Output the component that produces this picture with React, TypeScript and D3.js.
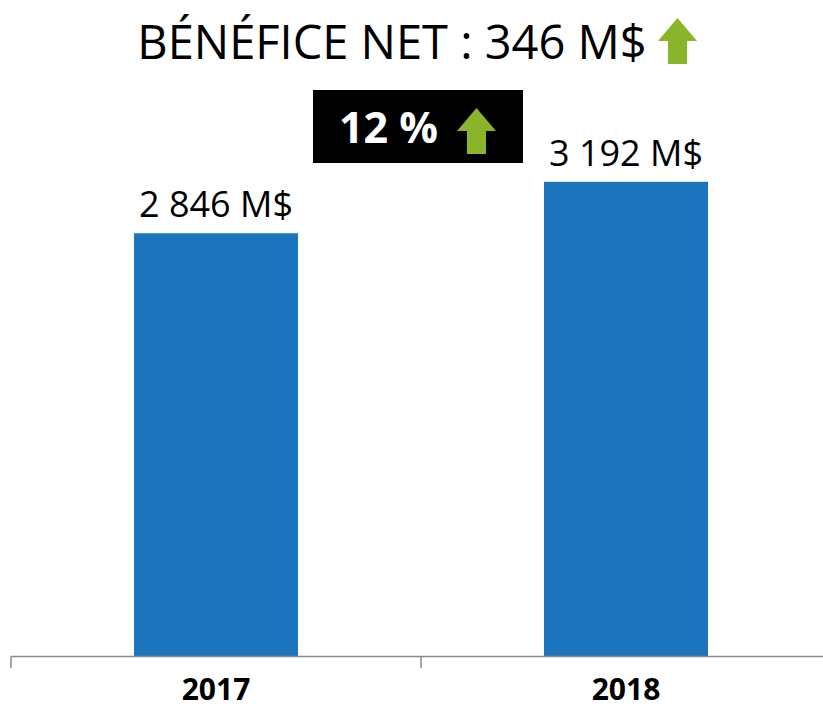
import React from 'react';
import * as d3 from 'd3';

const years = ['2017', '2018'];
const values = [2846, 3192];
const valueLabels = ['2 846 M$', '3 192 M$'];
const titleText = 'BÉNÉFICE NET : 346 M$';
const changeText = '12 %';

const W = 823;
const H = 709;
const baseY = 656.5;

// up arrow: triangular head on top, shaft below
const arrowPts = (x: number, y: number, w: number, h: number) => {
  const pts = [
    [0.5, 0], [1, 0.5], [0.745, 0.5], [0.745, 1], [0.255, 1], [0.255, 0.5], [0, 0.5],
  ];
  return pts.map(p => `${x + p[0] * w},${y + p[1] * h}`).join(' ');
};

const App = () => {
  const x = d3.scaleBand<string>().domain(years).range([11, 831]);
  const y = d3.scaleLinear().domain([0, 3500]).range([baseY, 136]);
  const barW = x.bandwidth() * 0.4;
  const font = "'Open Sans', sans-serif";

  return (
    <svg width={W} height={H} style={{ position: 'absolute', left: 0, top: 0 }} fontFamily={font}>
      <rect width={W} height={H} fill="#fff" />
      <text x={392} y={59} textAnchor="middle" fontSize={47} fill="#000">{titleText}</text>
      <polygon points={arrowPts(658, 18, 39, 46)} fill="#8AB52B" />

      <rect x={313} y={90} width={210} height={73} fill="#000" />
      <text x={339} y={143} fontSize={43} fontWeight="bold" fill="#fff">{changeText}</text>
      <polygon points={arrowPts(457, 108, 39, 46)} fill="#8AB52B" />

      {years.map((yr, i) => {
        const cx = (x(yr) as number) + x.bandwidth() / 2;
        return (
          <g key={yr}>
            <rect x={cx - barW / 2} y={y(values[i])} width={barW} height={baseY - y(values[i])} fill="#1C75BC" />
            <text x={cx} y={y(values[i]) - 16} textAnchor="middle" fontSize={36} fill="#000">{valueLabels[i]}</text>
            <text x={cx} y={700} textAnchor="middle" fontSize={30} fontWeight="bold" fill="#000">{yr}</text>
          </g>
        );
      })}

      <line x1={11} x2={W} y1={baseY} y2={baseY} stroke="#888" strokeWidth={1.5} />
      {[...years.map(yr => x(yr) as number), 831].map((t, i) => (
        <line key={i} x1={t} x2={t} y1={baseY} y2={668} stroke="#888" strokeWidth={1.5} />
      ))}
    </svg>
  );
};

export default App;
